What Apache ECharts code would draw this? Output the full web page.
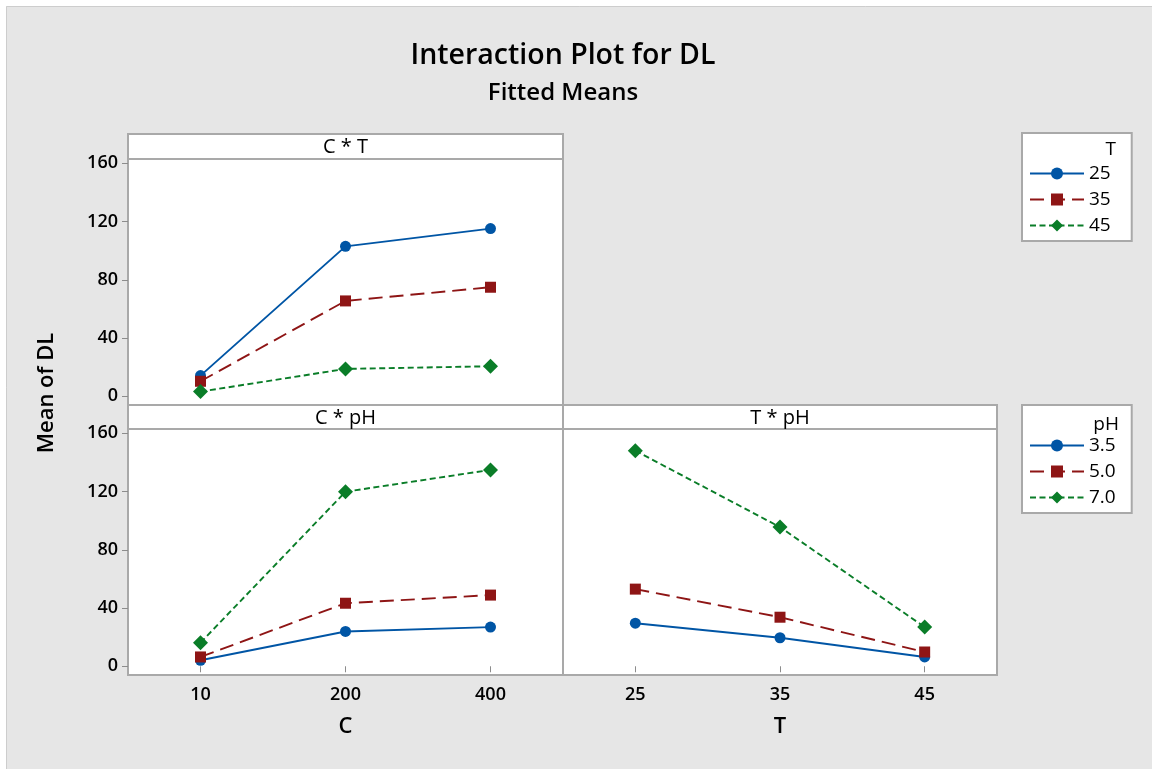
<!DOCTYPE html>
<html>
<head>
<meta charset="utf-8">
<style>
  html, body { margin: 0; padding: 0; background: #fff; }
  #chart { width: 1152px; height: 769px; }
</style>
<script src="https://cdn.jsdelivr.net/npm/echarts@6/dist/echarts.min.js"></script>
</head>
<body>
<div id="chart"></div>
<script>
// Factor levels
const cLevels = ['10', '200', '400'];
const tLevels = ['25', '35', '45'];
const tLegend = ['25', '35', '45'];
const phLegend = ['3.5', '5.0', '7.0'];
const yTicks = [0, 40, 80, 120, 160];

// C * T fitted means (C = 10, 200, 400), one list per T level
const ctT25 = [14.2, 103.0, 115.2];
const ctT35 = [10.3, 65.5, 74.9];
const ctT45 = [3.2, 18.8, 20.6];

// C * pH fitted means (C = 10, 200, 400)
const cpH35 = [4.1, 23.9, 26.9];
const cpH50 = [6.4, 43.3, 48.9];
const cpH70 = [16.2, 119.9, 134.9];

// T * pH fitted means (T = 25, 35, 45)
const tpH35 = [29.6, 19.6, 6.4];
const tpH50 = [53.0, 33.7, 9.8];
const tpH70 = [148.1, 95.6, 26.9];

const FONT = '"Open Sans", "DejaVu Sans", sans-serif';
const PANEL = '#a9a9a9';

// Level styles: first level solid/circle, second long dash/square, third short dash/diamond
const looks = [
  { color: '#0055a5', type: 'solid', symbol: 'circle', size: 11 },
  { color: '#8e1515', type: [14, 7], symbol: 'rect', size: 11 },
  { color: '#0a7d28', type: [6, 3.5], symbol: 'diamond', size: 15 }
];

function line(name, data, gi, look) {
  return {
    type: 'line', name: name, data: data,
    xAxisIndex: gi, yAxisIndex: gi,
    symbol: look.symbol, symbolSize: look.size,
    lineStyle: { color: look.color, width: 1.9, type: look.type },
    itemStyle: { color: look.color },
    emphasis: { disabled: true },
    animation: false
  };
}

const grids = [
  { left: 128, top: 159, width: 435, height: 246 },
  { left: 128, top: 429, width: 435, height: 246 },
  { left: 563, top: 429, width: 434, height: 246 }
].map(g => Object.assign({
  show: true, backgroundColor: '#fff', borderColor: PANEL, borderWidth: 2
}, g));

function xAxis(gi, cats, name) {
  const shown = gi > 0;
  return {
    gridIndex: gi, type: 'category', data: cats, boundaryGap: true,
    axisLine: { show: false },
    axisTick: { show: shown, alignWithLabel: true, length: 6, lineStyle: { color: '#8c8c8c', width: 1 } },
    axisLabel: { show: shown, margin: 11, fontSize: 18, fontWeight: 600, color: '#000', fontFamily: FONT },
    splitLine: { show: false },
    name: name, nameLocation: 'middle', nameGap: 41,
    nameTextStyle: { fontSize: 22, fontWeight: 600, color: '#000', fontFamily: FONT }
  };
}

function yAxis(gi) {
  const shown = gi < 2;
  return {
    gridIndex: gi, type: 'value', min: -6, max: 163,
    axisLine: { show: false },
    splitLine: { show: false },
    axisTick: { show: shown, customValues: yTicks, length: 6, lineStyle: { color: '#8c8c8c', width: 1 } },
    axisLabel: { show: shown, customValues: yTicks, margin: 10, fontSize: 18, fontWeight: 600, color: '#000', fontFamily: FONT }
  };
}

function strip(x, y, w, h, text) {
  return [
    { type: 'rect', shape: { x: x, y: y, width: w, height: h },
      style: { fill: '#fff', stroke: PANEL, lineWidth: 2 }, z: 10 },
    { type: 'text', x: x + w / 2, y: y + h / 2 + 1, z: 11,
      style: { text: text, align: 'center', verticalAlign: 'middle',
               font: '500 20px ' + FONT, fill: '#000' } }
  ];
}

function legend(names, top, padRight) {
  return {
    data: names, orient: 'vertical', left: 1022, top: top,
    selectedMode: false,
    backgroundColor: '#fff', borderColor: PANEL, borderWidth: 2,
    padding: [31, padRight, 6, 7],
    itemWidth: 54, itemHeight: 15, itemGap: 7,
    textStyle: { fontSize: 19, lineHeight: 18, fontWeight: 500, color: '#000', fontFamily: FONT }
  };
}

const option = {
  backgroundColor: '#e6e6e6',
  animation: false,
  title: {
    text: 'Interaction Plot for DL',
    subtext: 'Fitted Means',
    left: 563, top: 41, textAlign: 'center', itemGap: 11, padding: 0,
    textStyle: { fontSize: 28.5, fontWeight: 600, color: '#000', fontFamily: FONT },
    subtextStyle: { fontSize: 24, fontWeight: 600, color: '#000', fontFamily: FONT }
  },
  legend: [legend(tLegend, 133, 21), legend(phLegend, 405, 16)],
  grid: grids,
  xAxis: [xAxis(0, cLevels, ''), xAxis(1, cLevels, 'C'), xAxis(2, tLevels, 'T')],
  yAxis: [yAxis(0), yAxis(1), yAxis(2)],
  series: [
    line('25', ctT25, 0, looks[0]),
    line('35', ctT35, 0, looks[1]),
    line('45', ctT45, 0, looks[2]),
    line('3.5', cpH35, 1, looks[0]),
    line('5.0', cpH50, 1, looks[1]),
    line('7.0', cpH70, 1, looks[2]),
    line('3.5', tpH35, 2, looks[0]),
    line('5.0', tpH50, 2, looks[1]),
    line('7.0', tpH70, 2, looks[2])
  ],
  graphic: [
    // white margin along the top and left edges of the frame
    { type: 'rect', shape: { x: 0, y: 0, width: 1152, height: 6 }, style: { fill: '#fff' } },
    { type: 'rect', shape: { x: 0, y: 0, width: 6, height: 769 }, style: { fill: '#fff' } },
    { type: 'line', shape: { x1: 6.5, y1: 6.5, x2: 1152, y2: 6.5 }, style: { stroke: '#cdcdcd', lineWidth: 1 } },
    { type: 'line', shape: { x1: 6.5, y1: 6.5, x2: 6.5, y2: 769 }, style: { stroke: '#cdcdcd', lineWidth: 1 } },
    ...strip(128, 134, 435, 25, 'C * T'),
    ...strip(128, 405, 435, 24, 'C * pH'),
    ...strip(563, 405, 434, 24, 'T * pH'),
    { type: 'text', x: 47, y: 393, rotation: Math.PI / 2,
      style: { text: 'Mean of DL', align: 'center', verticalAlign: 'middle',
               font: '600 22px ' + FONT, fill: '#000' } },
    { type: 'text', x: 1116, y: 150, z: 20,
      style: { text: 'T', align: 'right', verticalAlign: 'middle', font: '500 19px ' + FONT, fill: '#000' } },
    { type: 'text', x: 1119, y: 425, z: 20,
      style: { text: 'pH', align: 'right', verticalAlign: 'middle', font: '500 19px ' + FONT, fill: '#000' } }
  ]
};

const chart = echarts.init(document.getElementById('chart'), null, { renderer: 'canvas' });
chart.setOption(option);
</script>
</body>
</html>
